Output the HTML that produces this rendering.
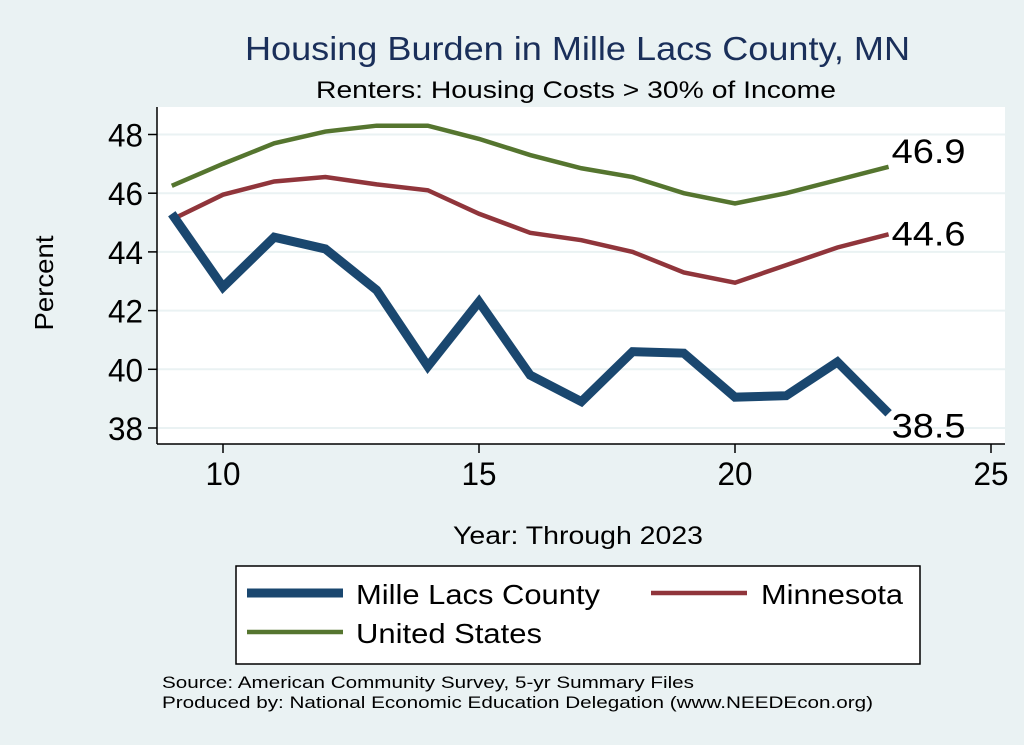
<!DOCTYPE html>
<html><head><meta charset="utf-8"><style>
body{margin:0;width:1024px;height:745px;background:#eaf2f3;overflow:hidden;font-family:"Liberation Sans",sans-serif}
svg{position:absolute;left:0;top:0}
</style></head><body>
<svg id="chart" width="1024" height="745">
<rect x="0" y="0" width="1024" height="745" fill="#eaf2f3"/>
<rect x="157" y="107" width="848" height="337" fill="#ffffff"/>
<text x="245" y="60" font-size="33" fill="#1a2f5a" textLength="665" lengthAdjust="spacingAndGlyphs">Housing Burden in Mille Lacs County, MN</text>
<text x="316" y="98" font-size="24" fill="#000" textLength="520" lengthAdjust="spacingAndGlyphs">Renters: Housing Costs &gt; 30% of Income</text>
<text x="0" y="0" transform="translate(53,283) rotate(-90)" text-anchor="middle" font-size="26" textLength="95" lengthAdjust="spacingAndGlyphs">Percent</text>
<text x="453" y="544" font-size="25" textLength="250" lengthAdjust="spacingAndGlyphs">Year: Through 2023</text>
<g id="grid"></g><g id="axes"></g><g id="series"></g><g id="labels"></g>
<rect x="236" y="566" width="684" height="98" fill="#fff" stroke="#000" stroke-width="1.5"/>
<g><line x1="247" y1="593" x2="343" y2="593" stroke="#1a476f" stroke-width="9"/><text x="356" y="604" font-size="28" textLength="244" lengthAdjust="spacingAndGlyphs">Mille Lacs County</text></g>
<g><line x1="651" y1="593" x2="747" y2="593" stroke="#90353b" stroke-width="4.5"/><text x="761" y="604" font-size="28" textLength="142" lengthAdjust="spacingAndGlyphs">Minnesota</text></g>
<g><line x1="247" y1="632" x2="343" y2="632" stroke="#55752f" stroke-width="4.5"/><text x="356" y="643" font-size="28" textLength="186" lengthAdjust="spacingAndGlyphs">United States</text></g>
<text x="162" y="688" font-size="17" textLength="532" lengthAdjust="spacingAndGlyphs">Source: American Community Survey, 5-yr Summary Files</text>
<text x="162" y="708" font-size="17" textLength="711" lengthAdjust="spacingAndGlyphs">Produced by: National Economic Education Delegation (www.NEEDEcon.org)</text>
</svg>
<script>
const years=[9,10,11,12,13,14,15,16,17,18,19,20,21,22,23];
const milleLacs=[45.3,42.8,44.5,44.1,42.7,40.1,42.3,39.8,38.9,40.6,40.55,39.05,39.1,40.25,38.5];
const minnesota=[45.1,45.95,46.4,46.55,46.3,46.1,45.3,44.65,44.4,44.0,43.3,42.95,43.55,44.15,44.6];
const unitedStates=[46.25,47.0,47.7,48.1,48.3,48.3,47.85,47.3,46.85,46.55,46.0,45.65,46.0,46.45,46.9];
const yTicks=[38,40,42,44,46,48];
const xTicks=[10,15,20,25];
const NS='http://www.w3.org/2000/svg';
const xs=v=>223+(v-10)*51.2;
const ys=v=>428-(v-38)*29.35;
function mk(t,a,p){const e=document.createElementNS(NS,t);for(const k in a)e.setAttribute(k,a[k]);p.appendChild(e);return e;}
const grid=document.getElementById('grid'),axes=document.getElementById('axes'),ser=document.getElementById('series'),lab=document.getElementById('labels');
yTicks.forEach(t=>{
 const g=mk('line',{x1:157,x2:1005,y1:ys(t),y2:ys(t),stroke:'#eaf2f3','stroke-width':2},grid);
 
 
 mk('line',{x1:148,x2:157,y1:ys(t),y2:ys(t),stroke:'#000','stroke-width':1.5},axes);
 const tx=mk('text',{x:143,y:ys(t)+12,'text-anchor':'end','font-size':32,textLength:35,lengthAdjust:'spacingAndGlyphs'},axes);tx.textContent=t;
 
 
});
xTicks.forEach(t=>{
 mk('line',{x1:xs(t),x2:xs(t),y1:444,y2:453,stroke:'#000','stroke-width':1.5},axes);
 const tx=mk('text',{x:xs(t),y:485,'text-anchor':'middle','font-size':32,textLength:35,lengthAdjust:'spacingAndGlyphs'},axes);tx.textContent=t;
 
 
});
mk('line',{x1:157,x2:157,y1:107,y2:444,stroke:'#000','stroke-width':1.5},axes);
mk('line',{x1:157,x2:1005,y1:444,y2:444,stroke:'#000','stroke-width':1.5},axes);
function line(data,color,w,name){
 const p=mk('polyline',{points:data.map((v,i)=>xs(years[i])+','+ys(v)).join(' '),fill:'none',stroke:color,'stroke-width':w,'stroke-linejoin':'miter'},ser);
 
 
}
line(unitedStates,'#55752f',4.5,'line-united-states');
line(minnesota,'#90353b',4.5,'line-minnesota');
line(milleLacs,'#1a476f',9,'line-mille-lacs');
const last=years.length-1;
[[unitedStates,-4,'label-us-last'],[minnesota,11,'label-mn-last'],[milleLacs,24,'label-ml-last']].forEach(([d,dy,n])=>{
 const t=mk('text',{x:xs(years[last])+3,y:ys(d[last])+dy,'font-size':34,textLength:74,lengthAdjust:'spacingAndGlyphs'},lab);t.textContent=d[last].toFixed(1);
 
 
});
</script>
</body></html>
